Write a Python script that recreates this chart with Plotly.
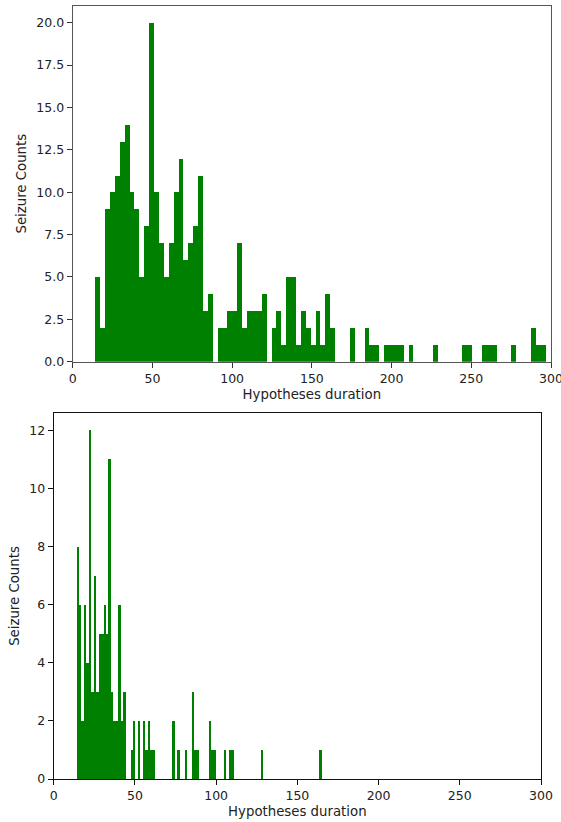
import plotly.graph_objects as go

# ---------------- data ----------------
# Top histogram: 100 bins over the data range; bins shown up to x=300
top_bin_start = 14.0
top_bin_width = 3.07
top_counts = [5, 2, 9, 10, 11, 13, 14, 10, 9, 5,
              8, 20, 10, 7, 5, 7, 10, 12, 6, 7,
              8, 11, 3, 4, 0, 2, 2, 3, 3, 7,
              2, 3, 3, 3, 4, 0, 2, 3, 1, 5,
              5, 1, 3, 2, 1, 3, 1, 4, 2, 0,
              0, 0, 2, 0, 0, 2, 1, 1, 0, 1,
              1, 1, 1, 0, 1, 0, 0, 0, 0, 1,
              0, 0, 0, 0, 0, 1, 1, 0, 0, 1,
              1, 1, 0, 0, 0, 1, 0, 0, 0, 2,
              1, 1, 0, 1]

# Bottom histogram: 100 bins
bot_bin_start = 13.9
bot_bin_width = 1.51
bot_counts = [8, 6, 2, 6, 4, 12, 3, 7, 3, 5,
              5, 6, 5, 11, 3, 2, 2, 6, 2, 3,
              0, 0, 1, 2, 0, 2, 0, 2, 1, 2,
              1, 1, 0, 0, 0, 0, 0, 0, 0, 2,
              0, 1, 0, 0, 1, 0, 0, 3, 1, 1,
              0, 0, 0, 0, 2, 1, 1, 0, 0, 0,
              1, 0, 1, 1, 0, 0, 0, 0, 0, 0,
              0, 0, 0, 0, 0, 1, 0, 0, 0, 0,
              0, 0, 0, 0, 0, 0, 0, 0, 0, 0,
              0, 0, 0, 0, 0, 0, 0, 0, 0, 1]

x_ticks = [0, 50, 100, 150, 200, 250, 300]
top_y_ticks = [0, 2.5, 5, 7.5, 10, 12.5, 15, 17.5, 20]
bot_y_ticks = [0, 2, 4, 6, 8, 10, 12]
x_label = "Hypotheses duration"
y_label = "Seizure Counts"

# ---------------- figure ----------------
W, H = 561, 822
GREEN = "#008000"
FONT = "DejaVu Sans"

top_x = [top_bin_start + (i + 0.5) * top_bin_width for i in range(len(top_counts))]
bot_x = [bot_bin_start + (i + 0.5) * bot_bin_width for i in range(len(bot_counts))]

fig = go.Figure()
fig.add_trace(go.Bar(x=top_x, y=top_counts, width=top_bin_width,
                     marker=dict(color=GREEN, line=dict(width=0)),
                     xaxis="x", yaxis="y", showlegend=False))
fig.add_trace(go.Bar(x=bot_x, y=bot_counts, width=bot_bin_width,
                     marker=dict(color=GREEN, line=dict(width=0)),
                     xaxis="x2", yaxis="y2", showlegend=False))

def px_x(a, b):
    return [a / W, b / W]

def px_y(top, bottom):
    return [1 - bottom / H, 1 - top / H]

tick_font = dict(family=FONT, size=12.5, color="#222")
title_font = dict(family=FONT, size=13.3, color="#222")

common_axis = dict(showgrid=False, zeroline=False, showline=True, mirror=True,
                   ticks="outside", ticklen=5, tickwidth=1,
                   tickfont=tick_font, automargin=False,
                   ticklabeloverflow="allow")

fig.update_layout(
    width=W, height=H,
    margin=dict(l=0, r=0, t=0, b=0, pad=0),
    paper_bgcolor="white", plot_bgcolor="white",
    bargap=0, barmode="overlay",
    font=dict(family=FONT),
    xaxis=dict(domain=px_x(72.7, 551), anchor="y", range=[0, 300],
               tickvals=x_ticks, linecolor="#555", tickcolor="#333",
               title=dict(text=x_label, font=title_font, standoff=4),
               **common_axis),
    yaxis=dict(domain=px_y(5.7, 361.7), anchor="x", range=[0, 21],
               tickvals=top_y_ticks, tickformat=".1f", linecolor="#555", tickcolor="#333",
               title=dict(text=y_label, font=title_font, standoff=6),
               **common_axis),
    xaxis2=dict(domain=px_x(53.7, 541), anchor="y2", range=[0, 300],
                tickvals=x_ticks, linecolor="#111", tickcolor="#111",
                title=dict(text=x_label, font=title_font, standoff=4),
                **common_axis),
    yaxis2=dict(domain=px_y(413, 779), anchor="x2", range=[0, 12.6],
                tickvals=bot_y_ticks, linecolor="#111", tickcolor="#111",
                title=dict(text=y_label, font=title_font, standoff=6),
                **common_axis),
)

fig.write_html("out.html",
               config={"displayModeBar": False},
               post_script="document.body.style.margin='0';document.body.style.overflow='hidden';")
